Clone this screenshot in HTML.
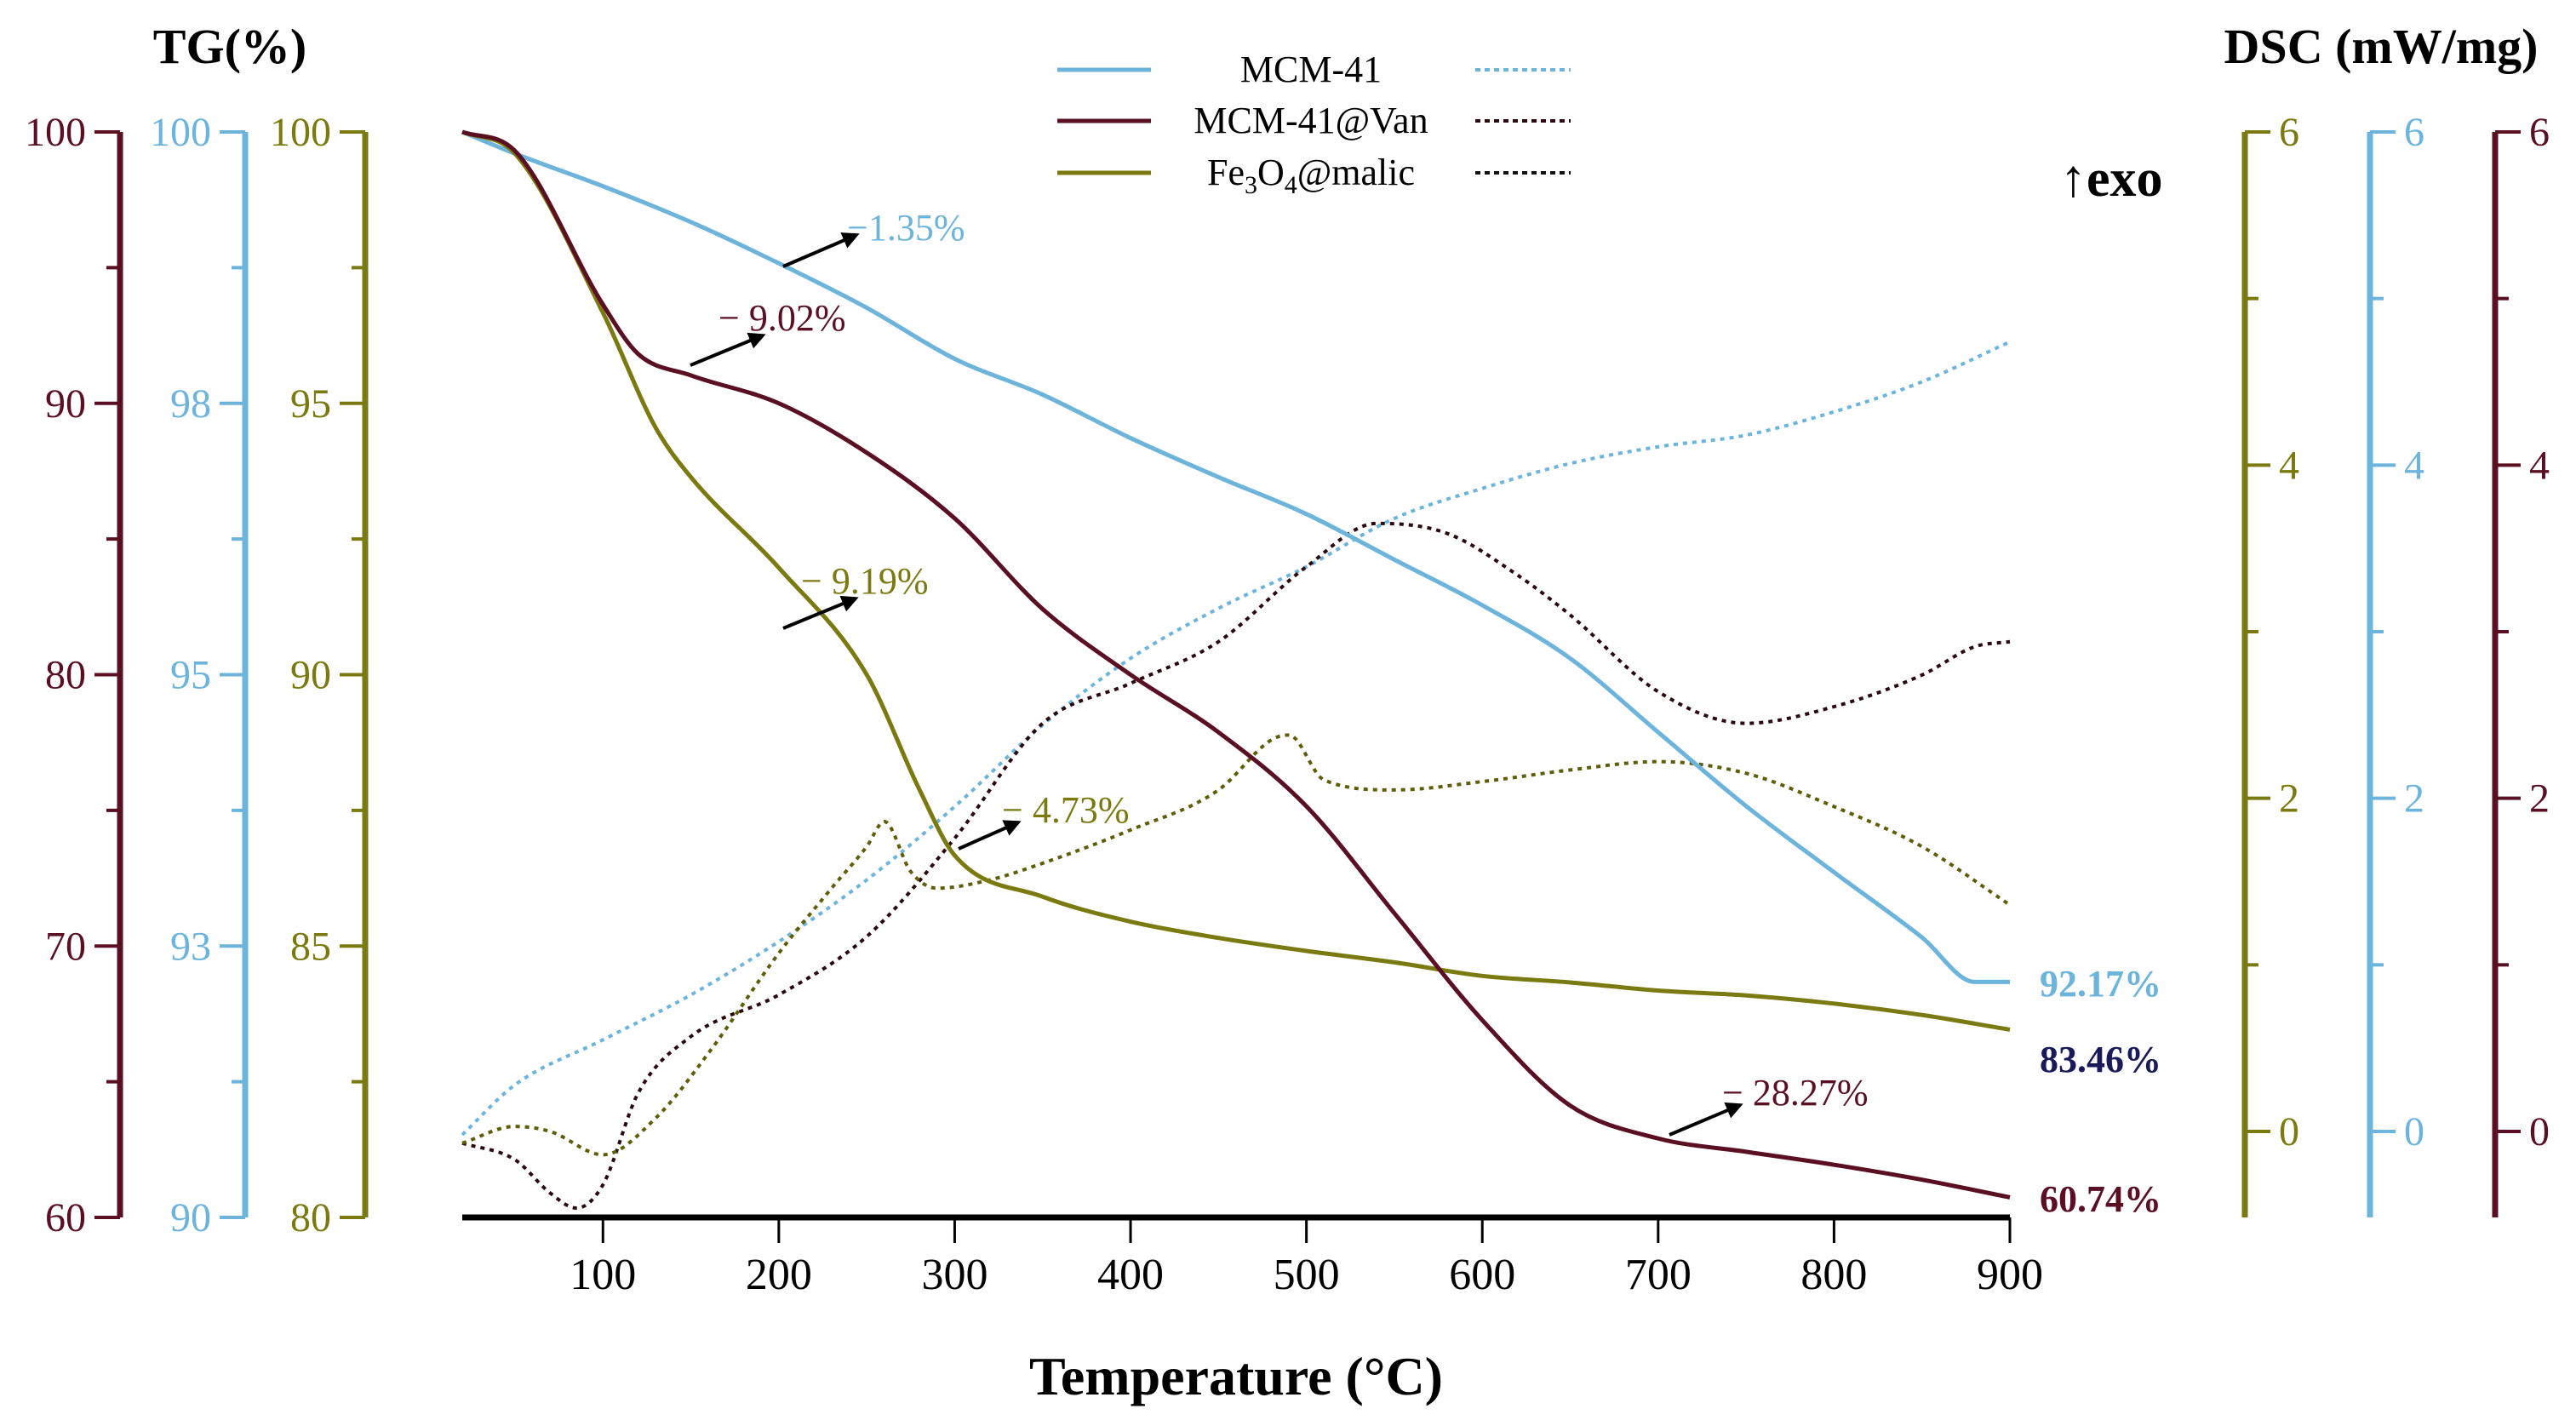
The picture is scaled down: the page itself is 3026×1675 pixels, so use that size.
<!DOCTYPE html>
<html><head><meta charset="utf-8"><style>
html,body{margin:0;padding:0;background:#fff;}
svg{display:block;font-family:"Liberation Serif",serif;}
</style></head><body>
<svg id="chart" width="3026" height="1675" viewBox="0 0 3026 1675" xmlns="http://www.w3.org/2000/svg">
<g id="axes"></g>
<g id="series"></g>
<g id="annot"></g>
<text x="270" y="74" font-size="58" font-weight="bold" text-anchor="middle">TG(%)</text>
<text x="2797" y="74" font-size="58" font-weight="bold" text-anchor="middle">DSC (mW/mg)</text>
<text x="2420" y="230" font-size="62" font-weight="bold">↑exo</text>
<text x="1452" y="1638" font-size="64" font-weight="bold" text-anchor="middle">Temperature (°C)</text>
<g font-size="44">
 <line x1="1242" y1="82" x2="1352" y2="82" stroke="#6cb4dc" stroke-width="5"/>
 <text x="1540" y="96" text-anchor="middle">MCM-41</text>
 <line x1="1733" y1="82" x2="1845" y2="82" stroke="#6cb4dc" stroke-width="4" stroke-dasharray="6,5"/>
 <line x1="1242" y1="142" x2="1352" y2="142" stroke="#5a0f22" stroke-width="5"/>
 <text x="1540" y="156" text-anchor="middle">MCM-41@Van</text>
 <line x1="1733" y1="142" x2="1845" y2="142" stroke="#2a0a10" stroke-width="4" stroke-dasharray="6,5"/>
 <line x1="1242" y1="203" x2="1352" y2="203" stroke="#7a7a10" stroke-width="5"/>
 <text x="1540" y="217" text-anchor="middle">Fe<tspan font-size="30" dy="10">3</tspan><tspan dy="-10">O</tspan><tspan font-size="30" dy="10">4</tspan><tspan dy="-10">@malic</tspan></text>
 <line x1="1733" y1="203" x2="1845" y2="203" stroke="#111" stroke-width="4" stroke-dasharray="6,5"/>
</g>
</svg>
<script>
const temps = [20,50,100,150,200,250,300,350,400,450,500,550,600,650,700,750,800,850,880,900];
const tgMcm = [100,99.8,99.5,99.17,98.79,98.38,97.91,97.58,97.18,96.82,96.48,96.06,95.64,95.15,94.47,93.79,93.18,92.58,92.17,92.17];
const tempsVan = [20,50,100,120,150,200,250,300,350,400,450,500,550,600,650,700,750,800,850,900];
const tgVan = [100,99.3,93.64,91.82,91.03,90.0,88.18,85.76,82.42,80,77.88,75.15,71.21,67.27,64.12,62.91,62.42,61.94,61.39,60.74];
const tempsFe = [20,50,100,130,150,200,250,280,300,350,400,450,500,550,600,650,700,750,800,850,900];
const tgFe = [100,99.6,96.67,94.55,93.64,91.97,90,87.88,86.67,85.91,85.45,85.15,84.91,84.70,84.45,84.33,84.18,84.09,83.94,83.73,83.46];
const dscTempsMcm = [20,50,100,150,200,250,300,350,400,450,500,550,600,650,700,750,800,850,900];
const dscMcm = [-0.02,0.28,0.55,0.82,1.14,1.51,1.95,2.44,2.84,3.14,3.39,3.68,3.86,4.01,4.11,4.18,4.32,4.50,4.74];
const dscTempsVan = [20,50,70,85,100,120,150,200,250,300,350,400,450,500,540,580,620,650,700,750,800,850,880,900];
const dscVan = [-0.07,-0.17,-0.37,-0.46,-0.32,0.23,0.57,0.82,1.17,1.76,2.45,2.69,2.94,3.39,3.65,3.59,3.34,3.10,2.64,2.45,2.55,2.74,2.91,2.94];
const dscTempsFe = [20,50,70,100,130,160,200,230,250,260,275,290,320,350,400,450,480,490,510,550,600,650,700,750,800,850,900];
const dscFe = [-0.07,0.03,0,-0.14,0.08,0.47,1.07,1.46,1.71,1.86,1.56,1.46,1.51,1.61,1.81,2.05,2.35,2.38,2.11,2.05,2.10,2.17,2.22,2.15,1.95,1.71,1.36];
const xTicks = [100,200,300,400,500,600,700,800,900];
const tgMaroonTicks = [60,70,80,90,100];
const tgBlueTicks = [90,92.5,95,97.5,100];
const tgBlueLabels = ["90","93","95","98","100"];
const tgOliveTicks = [80,85,90,95,100];
const dscTicks = [0,2,4,6];

const NS="http://www.w3.org/2000/svg";
const X0=543, X1=2361, T0=20, T1=900;
const YB=1430, YT=155;
const xS = t => X0 + (t-T0)/(T1-T0)*(X1-X0);
const tgScale = (lo,hi) => v => YB - (v-lo)/(hi-lo)*(YB-YT);
const yMaroon = tgScale(60,100), yBlue = tgScale(90,100), yOlive = tgScale(80,100);
const DSC0=1329;
const yDsc = v => DSC0 - v/6*(DSC0-YT);
const C={maroon:"#5a0f22",blue:"#6cb4dc",olive:"#7a7a10",navy:"#1a1a5a",black:"#111"};
function mk(tag,attrs,parent){const e=document.createElementNS(NS,tag);for(const k in attrs)e.setAttribute(k,attrs[k]);parent.appendChild(e);return e;}
const axes=document.getElementById('axes'), series=document.getElementById('series'), annot=document.getElementById('annot');

let el=mk('line',{x1:X0,y1:YB,x2:X1,y2:YB,stroke:"#000","stroke-width":7},axes);


xTicks.forEach(t=>{
 let tk=mk('line',{x1:xS(t),y1:YB,x2:xS(t),y2:YB+30,stroke:"#000","stroke-width":3},axes);
 
 
 let lb=mk('text',{x:xS(t),y:YB+84,"font-size":52,"text-anchor":"middle"},axes);
 lb.textContent=t;
 
 
});

function leftAxis(ax,ticks,labels,scale,color,name){
 let l=mk('line',{x1:ax,y1:YT,x2:ax,y2:YB,stroke:color,"stroke-width":7},axes);
 
 
 for(let i=0;i<ticks.length;i++){
  const y=scale(ticks[i]);
  let t=mk('line',{x1:ax-30,y1:y,x2:ax,y2:y,stroke:color,"stroke-width":4},axes);
  
  
  let lb=mk('text',{x:ax-40,y:y+16,"font-size":48,"text-anchor":"end",fill:color},axes);
  lb.textContent=labels[i];
  
  
  if(i<ticks.length-1){
   const ym=(y+scale(ticks[i+1]))/2;
   let m=mk('line',{x1:ax-16,y1:ym,x2:ax,y2:ym,stroke:color,"stroke-width":4},axes);
   
   
  }
 }
}
leftAxis(141,tgMaroonTicks,tgMaroonTicks.map(String),yMaroon,C.maroon,'tg-axis-van');
leftAxis(288,tgBlueTicks,tgBlueLabels,yBlue,C.blue,'tg-axis-mcm');
leftAxis(429,tgOliveTicks,tgOliveTicks.map(String),yOlive,C.olive,'tg-axis-fe');

function rightAxis(ax,color,name){
 let l=mk('line',{x1:ax,y1:YT,x2:ax,y2:YB,stroke:color,"stroke-width":7},axes);
 
 
 dscTicks.forEach((v,i)=>{
  const y=yDsc(v);
  let t=mk('line',{x1:ax,y1:y,x2:ax+30,y2:y,stroke:color,"stroke-width":4},axes);
  
  
  let lb=mk('text',{x:ax+40,y:y+16,"font-size":48,fill:color},axes);
  lb.textContent=v;
  
  
  if(i<dscTicks.length-1){
   const ym=yDsc(v+1);
   let m=mk('line',{x1:ax,y1:ym,x2:ax+16,y2:ym,stroke:color,"stroke-width":4},axes);
   
   
  }
 });
}
rightAxis(2637,C.olive,'dsc-axis-fe');
rightAxis(2784,C.blue,'dsc-axis-mcm');
rightAxis(2931,C.maroon,'dsc-axis-van');

// monotone cubic (Fritsch–Carlson) path
function smooth(p){
 const n=p.length, d=[], m=[];
 for(let i=0;i<n-1;i++) d.push((p[i+1][1]-p[i][1])/(p[i+1][0]-p[i][0]));
 m[0]=d[0]; m[n-1]=d[n-2];
 for(let i=1;i<n-1;i++) m[i]=(d[i-1]*d[i]<=0)?0:(d[i-1]+d[i])/2;
 for(let i=0;i<n-1;i++){
  if(d[i]===0){m[i]=0;m[i+1]=0;continue;}
  const a=m[i]/d[i], b=m[i+1]/d[i], s=a*a+b*b;
  if(s>9){const t=3/Math.sqrt(s);m[i]=t*a*d[i];m[i+1]=t*b*d[i];}
 }
 let s=`M${p[0][0]},${p[0][1]}`;
 for(let i=0;i<n-1;i++){
  const h=(p[i+1][0]-p[i][0])/3;
  s+=` C${p[i][0]+h},${p[i][1]+m[i]*h} ${p[i+1][0]-h},${p[i+1][1]-m[i+1]*h} ${p[i+1][0]},${p[i+1][1]}`;
 }
 return s;
}
function curve(ts,vs,ys,color,dash,name){
 const pts=ts.map((t,i)=>[xS(t),ys(vs[i])]);
 const a={d:smooth(pts),fill:"none",stroke:color,"stroke-width":dash?4:5};
 if(dash)a["stroke-dasharray"]="5,6";
 let p=mk('path',a,series);
 
 
}
curve(dscTempsMcm,dscMcm,yDsc,C.blue,true,'dsc-mcm41-line');
curve(dscTempsVan,dscVan,yDsc,"#2a0a10",true,'dsc-van-line');
curve(dscTempsFe,dscFe,yDsc,"#5e5e0a",true,'dsc-fe-line');
curve(temps,tgMcm,yBlue,C.blue,false,'tg-mcm41-line');
curve(tempsFe,tgFe,yOlive,C.olive,false,'tg-fe-line');
curve(tempsVan,tgVan,yMaroon,C.maroon,false,'tg-van-line');

mk('defs',{},annot).innerHTML='<marker id="ah" viewBox="0 0 10 10" refX="8" refY="5" markerWidth="5" markerHeight="5" orient="auto"><path d="M0,0 L10,5 L0,10 z" fill="#000"/></marker>';
const notes=[
 [920,313,1006,276,"−1.35%",995,282,C.blue],
 [811,429,896,394,"− 9.02%",844,388,C.maroon],
 [920,738,1005,703,"− 9.19%",941,697,C.olive],
 [1126,997,1196,966,"− 4.73%",1177,966,C.olive],
 [1961,1333,2044,1298,"− 28.27%",2023,1298,C.maroon]
];
notes.forEach(n=>{
 let a=mk('line',{x1:n[0],y1:n[1],x2:n[2],y2:n[3],stroke:"#000","stroke-width":4,"marker-end":"url(#ah)"},annot);
 
 
 let t=mk('text',{x:n[5],y:n[6],"font-size":44,fill:n[7]},annot);
 t.textContent=n[4];
 
 
});
[["92.17%",1170,C.blue],["83.46%",1259,C.navy],["60.74%",1423,C.maroon]].forEach(f=>{
 let t=mk('text',{x:2396,y:f[1],"font-size":44,"font-weight":"bold",fill:f[2]},annot);
 t.textContent=f[0];
 
 
});
</script>
</body></html>
